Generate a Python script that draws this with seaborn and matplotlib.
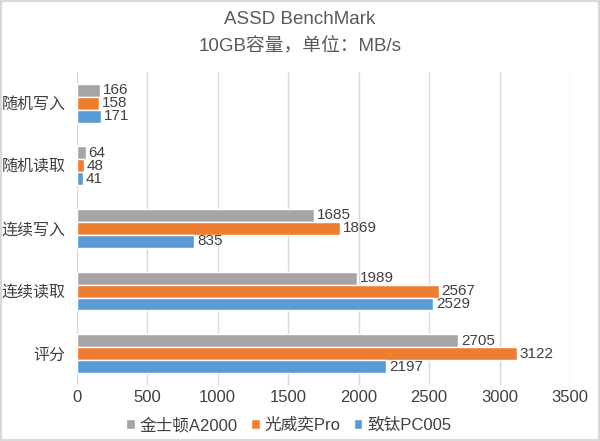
import pandas as pd
import matplotlib.pyplot as plt
import seaborn as sns

categories = ['随机写入', '随机读取', '连续写入', '连续读取', '评分']
series = ['金士顿A2000', '光威奕Pro', '致钛PC005']
kingston = [166, 64, 1685, 1989, 2705]
gloway = [158, 48, 1869, 2567, 3122]
zhitai = [171, 41, 835, 2529, 2197]
colors = ['#A5A5A5', '#ED7D31', '#5B9BD5']

rows = []
for name, vals in zip(series, [kingston, gloway, zhitai]):
    for c, v in zip(categories, vals):
        rows.append({'cat': c, 'series': name, 'val': v})
df = pd.DataFrame(rows)

sns.set_style('white')
plt.rcParams['font.family'] = ['Liberation Sans', 'Noto Sans CJK SC']

fig = plt.figure(figsize=(6, 4.41), dpi=100)
ax = fig.add_axes([0.128, 0.127, 0.822, 0.71])
sns.barplot(data=df, y='cat', x='val', hue='series', order=categories,
            hue_order=series, palette=colors, orient='h', width=0.62,
            saturation=1, ax=ax)

for cont in ax.containers:
    ax.bar_label(cont, padding=2, fontsize=11, color='#404040')

ax.set_xlim(0, 3500)
ax.set_xticks(range(0, 3501, 500))
ax.grid(axis='x', color='#D9D9D9', linewidth=1)
ax.set_axisbelow(True)
for s in ax.spines.values():
    s.set_visible(False)
ax.set_xlabel('')
ax.set_ylabel('')
ax.tick_params(axis='both', length=0, labelsize=12, colors='#404040')
ax.tick_params(axis='y', labelsize=11.5, pad=8)

ax.legend(loc='upper center', bbox_to_anchor=(0.43, -0.055), ncol=3,
          frameon=False, fontsize=12, handlelength=0.5, handleheight=0.5,
          handletextpad=0.3, columnspacing=0.8, labelcolor='#404040')

fig.text(0.5, 0.955, 'ASSD BenchMark', ha='center', va='center', fontsize=13.5, color='#595959')
fig.text(0.5, 0.895, '10GB容量，单位：MB/s', ha='center', va='center', fontsize=13.5, color='#595959')

fig.patches.append(plt.Rectangle((0.002, 0.002), 0.996, 0.996, transform=fig.transFigure,
                                 fill=False, edgecolor='#D9D9D9', linewidth=1.5))
fig.savefig('out.png', dpi=100)
